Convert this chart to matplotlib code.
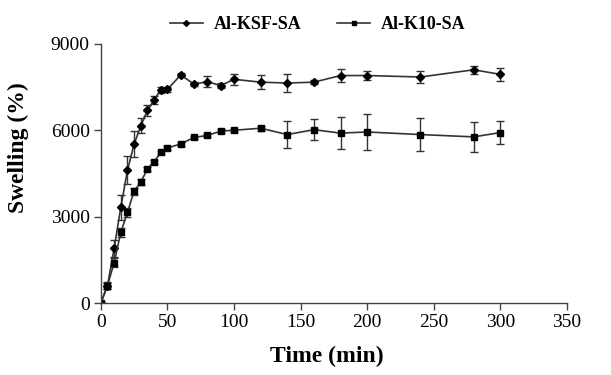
import numpy as np
import matplotlib
matplotlib.use("Agg")
from matplotlib import pyplot as plt
from matplotlib.lines import Line2D

plt.rcParams['font.family'] = ['Liberation Serif', 'DejaVu Serif']

# time points (min)
t_ksf = [0, 5, 10, 15, 20, 25, 30, 35, 40, 45, 50, 60, 70, 80, 90, 100,
         120, 140, 160, 180, 200, 240, 280, 300]
ksf = [0, 600, 1900, 3320, 4610, 5520, 6150, 6690, 7050, 7400, 7420, 7920,
       7600, 7690, 7550, 7770, 7670, 7640, 7670, 7900, 7900, 7850, 8100, 7940]
ksf_err = [0, 120, 300, 420, 480, 450, 260, 200, 150, 100, 80, 60,
           60, 200, 80, 185, 250, 320, 60, 230, 155, 195, 130, 215]

t_k10 = [0, 5, 10, 15, 20, 25, 30, 35, 40, 45, 50, 60, 70, 80, 90, 100,
         120, 140, 160, 180, 200, 240, 280, 300]
k10 = [0, 600, 1400, 2450, 3150, 3880, 4200, 4650, 4900, 5230, 5380, 5530,
       5750, 5820, 5970, 6000, 6070, 5850, 6020, 5900, 5940, 5850, 5770, 5920]
k10_err = [0, 100, 150, 150, 150, 120, 100, 80, 80, 60, 60, 60,
           60, 60, 60, 60, 80, 460, 375, 550, 620, 580, 520, 390]

fig = plt.figure(figsize=(6.11, 3.75), dpi=100)
ax = fig.add_axes([0.165, 0.192, 0.763, 0.691])

col = '#333333'
ax.errorbar(t_ksf, ksf, yerr=ksf_err, color=col, lw=1.2, marker='D', ms=4.5,
            mfc='black', mec='black', capsize=3, elinewidth=1.0, capthick=1.0)
ax.errorbar(t_k10, k10, yerr=k10_err, color=col, lw=1.2, marker='s', ms=5,
            mfc='black', mec='black', capsize=3, elinewidth=1.0, capthick=1.0)

ax.set_xlim(0, 350)
ax.set_ylim(0, 9000)
ax.set_xticks(np.arange(0, 351, 50))
ax.set_yticks([0, 3000, 6000, 9000])
ax.spines['top'].set_visible(False)
ax.spines['right'].set_visible(False)
for s in ['left', 'bottom']:
    ax.spines[s].set_color('#444444')
    ax.spines[s].set_linewidth(1.0)
ax.tick_params(direction='out', length=5, width=1.0, color='#444444',
               labelsize=14, pad=3)

ax.set_xlabel('Time (min)', fontsize=17, fontweight='bold')
ax.xaxis.set_label_coords(0.485, -0.165)
ax.set_ylabel('Swelling (%)', fontsize=17, fontweight='bold')
ax.yaxis.set_label_coords(-0.155, 0.6)

h1 = Line2D([], [], color=col, lw=1.2, marker='D', ms=3, mfc='black', mec='black')
h2 = Line2D([], [], color=col, lw=1.2, marker='s', ms=3, mfc='black', mec='black')
fig.legend([h1, h2], ['Al-KSF-SA', 'Al-K10-SA'], loc='upper center',
           bbox_to_anchor=(0.52, 1.0), ncol=2, frameon=False,
           prop={'weight': 'bold', 'size': 13}, handlelength=1.8,
           columnspacing=2.0, handletextpad=0.6)

fig.savefig('out.png', dpi=100)
